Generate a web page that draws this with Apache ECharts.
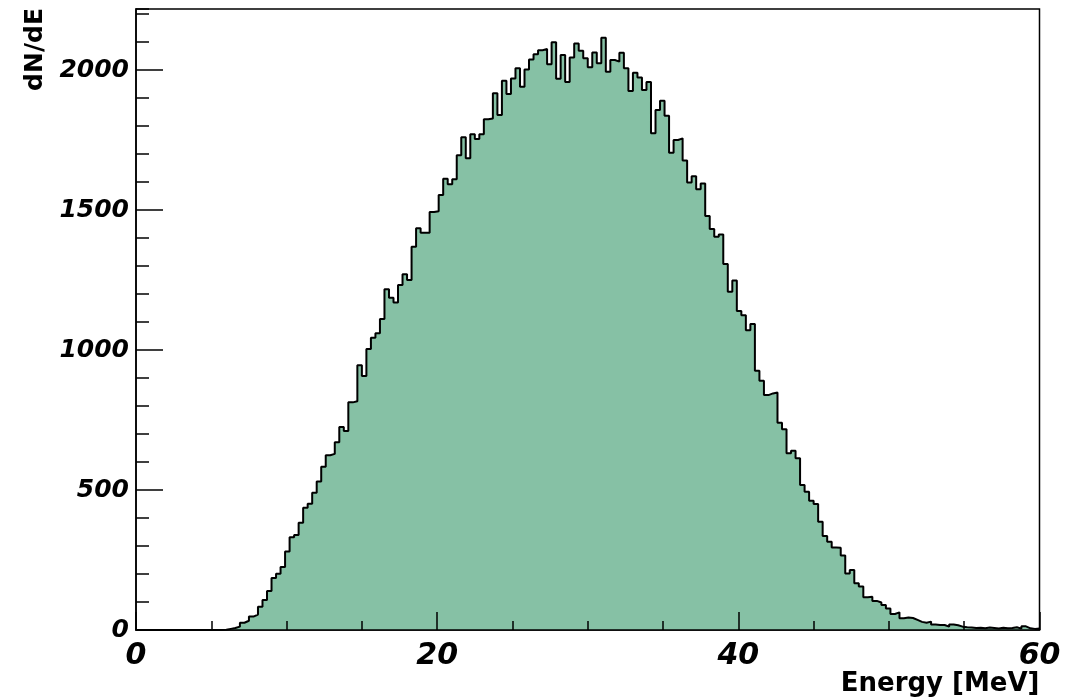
<!DOCTYPE html>
<html>
<head>
<meta charset="utf-8">
<script src="https://cdn.jsdelivr.net/npm/echarts@6/dist/echarts.min.js"></script>
<style>
  html, body { margin: 0; padding: 0; background: #ffffff; }
  #chart { width: 1077px; height: 699px; }
</style>
</head>
<body>
<div id="chart"></div>
<script>
// Energy spectrum: 200 bins of 0.3 MeV from 0 to 60 MeV
const binLow = 0;
const binWidth = 0.3;
const counts = [
  0, 0, 0, 0, 0, 0, 0, 0, 0, 0,
  0, 0, 0, 0, 0, 0, 0, 0, 0, 1,
  4, 7, 12, 26, 33, 48, 55, 83, 107, 139,
  186, 201, 225, 280, 331, 339, 383, 437, 451, 490,
  530, 583, 624, 629, 671, 725, 711, 813, 817, 946,
  907, 1004, 1044, 1060, 1111, 1217, 1187, 1170, 1232, 1271,
  1250, 1369, 1435, 1419, 1419, 1493, 1496, 1554, 1612, 1592,
  1610, 1696, 1760, 1685, 1771, 1754, 1771, 1824, 1827, 1917,
  1839, 1962, 1914, 1970, 2006, 1940, 2002, 2038, 2056, 2071,
  2075, 2021, 2099, 1969, 2054, 1957, 2045, 2095, 2069, 2042,
  2010, 2063, 2024, 2115, 1994, 2036, 2030, 2062, 2006, 1925,
  1990, 1973, 1929, 1957, 1774, 1857, 1890, 1837, 1705, 1750,
  1756, 1677, 1598, 1621, 1574, 1595, 1479, 1432, 1405, 1413,
  1307, 1208, 1248, 1139, 1124, 1071, 1093, 926, 890, 839,
  845, 848, 740, 717, 631, 640, 613, 518, 494, 462,
  450, 387, 336, 315, 295, 294, 266, 202, 214, 167,
  155, 117, 119, 104, 98, 89, 77, 57, 63, 42,
  45, 43, 36, 29, 26, 30, 20, 18, 18, 12,
  20, 17, 12, 10, 9, 7, 8, 6, 9, 7,
  5, 8, 6, 7, 10, 5, 13, 6, 4, 5
];
const xRange = [0, 60];
const yRange = [0, 2218];
const xTickLabels = [0, 20, 40, 60];
const yTickLabels = [0, 500, 1000, 1500, 2000];
const xTitle = 'Energy [MeV]';
const yTitle = 'dN/dE';

// Step outline: each point sits at a bin's lower edge; last point closes the final bin
const steps = counts.map((c, i) => [binLow + i * binWidth, c]);
steps.push([binLow + counts.length * binWidth, counts[counts.length - 1]]);

const baseFont = {
  color: '#000',
  fontFamily: 'DejaVu Sans',
  fontWeight: 'bold',
  fontStyle: 'italic'
};
const black = '#000';
const axisZ = 10;

const chart = echarts.init(document.getElementById('chart'), null, { renderer: 'canvas' });

chart.setOption({
  animation: false,
  backgroundColor: '#ffffff',
  grid: {
    left: 136, top: 9, right: 37.5, bottom: 69,
    show: true, borderColor: black, borderWidth: 1.5,
    backgroundColor: 'transparent'
  },
  xAxis: [
    {
      type: 'value', min: xRange[0], max: xRange[1], interval: 20,
      position: 'bottom', z: axisZ,
      axisLine: { show: true, onZero: false, lineStyle: { color: black, width: 1.5 } },
      axisTick: { show: true, inside: true, length: 18, lineStyle: { color: black, width: 1.5 } },
      axisLabel: {
        ...baseFont, fontSize: 30, margin: 11,
        formatter: v => (xTickLabels.includes(v) ? String(v) : '')
      },
      splitLine: { show: false }
    },
    {
      type: 'value', min: xRange[0], max: xRange[1], interval: 5,
      position: 'bottom', offset: 0, z: axisZ,
      axisLine: { show: false },
      axisTick: { show: true, inside: true, length: 9, lineStyle: { color: black, width: 1.5 } },
      axisLabel: { show: false },
      splitLine: { show: false }
    }
  ],
  yAxis: [
    {
      type: 'value', min: yRange[0], max: yRange[1], interval: 500,
      position: 'left', z: axisZ,
      axisLine: { show: true, onZero: false, lineStyle: { color: black, width: 1.5 } },
      axisTick: { show: true, inside: true, length: 27, lineStyle: { color: black, width: 1.5 } },
      axisLabel: {
        ...baseFont, fontSize: 25, margin: 7, showMaxLabel: false,
        formatter: v => (yTickLabels.includes(v) ? String(v) : '')
      },
      splitLine: { show: false }
    },
    {
      type: 'value', min: yRange[0], max: yRange[1], interval: 100,
      position: 'left', offset: 0, z: axisZ,
      axisLine: { show: false },
      axisTick: { show: true, inside: true, length: 13, lineStyle: { color: black, width: 1.5 } },
      axisLabel: { show: false },
      splitLine: { show: false }
    }
  ],
  graphic: [
    {
      type: 'text', x: 1039.5, y: 684,
      style: {
        text: xTitle, fill: black,
        font: 'bold 26px "DejaVu Sans"',
        textAlign: 'right', textVerticalAlign: 'middle'
      }
    },
    {
      type: 'text', x: 35, y: 8, rotation: Math.PI / 2,
      style: {
        text: yTitle, fill: black,
        font: 'bold 25px "DejaVu Sans"',
        textAlign: 'right', textVerticalAlign: 'middle'
      }
    }
  ],
  series: [
    {
      type: 'line',
      xAxisIndex: 0, yAxisIndex: 0,
      z: 1,
      data: steps,
      step: 'end',
      symbol: 'none',
      silent: true,
      lineStyle: { color: black, width: 2 },
      areaStyle: { color: '#86c1a5', opacity: 1, origin: 'start' }
    }
  ]
});
</script>
</body>
</html>
